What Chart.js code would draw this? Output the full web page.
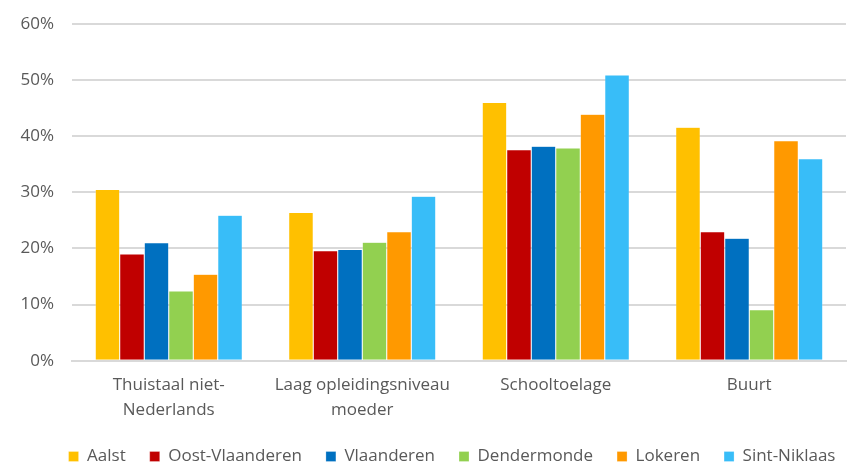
<!DOCTYPE html>
<html>
<head>
<meta charset="utf-8">
<script src="https://cdn.jsdelivr.net/npm/chart.js@4"></script>
<style>
  body { margin: 0; background: #fff; }
  #wrap { width: 852px; height: 465px; }
</style>
</head>
<body>
<div id="wrap"><canvas id="myBarChart" width="852" height="465"></canvas></div>
<script>
    const categories = [['Thuistaal niet-', 'Nederlands'], ['Laag opleidingsniveau', 'moeder'], 'Schooltoelage', 'Buurt'];
    const aalst = [30.5, 26.4, 46.0, 41.6];
    const oostVlaanderen = [19.0, 19.6, 37.6, 23.0];
    const vlaanderen = [21.0, 19.8, 38.2, 21.8];
    const dendermonde = [12.4, 21.1, 37.9, 9.1];
    const lokeren = [15.4, 23.0, 43.9, 39.2];
    const sintNiklaas = [25.9, 29.3, 50.9, 36.0];
    const yTicks = [0, 10, 20, 30, 40, 50, 60];

    function series(label, values, color) {
      return {
        label: label,
        data: values,
        backgroundColor: color,
        borderColor: 'rgba(255,255,255,0.5)',
        borderWidth: 0.5,
        barPercentage: 1,
        categoryPercentage: 0.76
      };
    }

    const data = {
      labels: categories,
      datasets: [
        series('Aalst', aalst, '#ffc000'),
        series('Oost-Vlaanderen', oostVlaanderen, '#c00000'),
        series('Vlaanderen', vlaanderen, '#0070c0'),
        series('Dendermonde', dendermonde, '#92d050'),
        series('Lokeren', lokeren, '#ff9900'),
        series('Sint-Niklaas', sintNiklaas, '#38bdf8')
      ]
    };

    const font = { family: 'Open Sans', size: 17 };

    // the original legend sits a bit right of centre and closer to the labels
    const shiftLegend = {
      id: 'shiftLegend',
      afterLayout(chart) {
        chart.legend.left += 27;
        chart.legend.right += 27;
        chart.legend.top -= 10;
        chart.legend.bottom -= 10;
      }
    };

    const config = {
      type: 'bar',
      data: data,
      plugins: [shiftLegend],
      options: {
        responsive: false,
        animation: false,
        layout: {
          padding: { top: 24, right: 6, left: 4, bottom: -20 }
        },
        scales: {
          x: {
            grid: { display: false, drawTicks: false },
            border: { color: '#d9d9d9', width: 2 },
            ticks: {
              color: '#595959',
              font: { family: 'Open Sans', size: 17, lineHeight: 1.45 },
              padding: 12,
              maxRotation: 0
            }
          },
          y: {
            min: 0,
            max: 60,
            afterBuildTicks: function (axis) {
              axis.ticks = yTicks.map(v => ({ value: v }));
            },
            afterFit: function (axis) { axis.width = 68; },
            grid: { color: '#d9d9d9', lineWidth: 2, drawTicks: false },
            border: { display: false },
            ticks: {
              color: '#595959',
              font: { family: 'Open Sans', size: 17, lineHeight: 0.5 },
              padding: 18,
              callback: function (value) { return value + '%'; }
            }
          }
        },
        plugins: {
          legend: {
            position: 'bottom',
            labels: {
              color: '#595959',
              font: font,
              boxWidth: 10,
              boxHeight: 10,
              padding: 24,
              useBorderRadius: false
            }
          },
          tooltip: { enabled: false }
        }
      }
    };

    const myBarChart = new Chart(document.getElementById('myBarChart'), config);
</script>
</body>
</html>
